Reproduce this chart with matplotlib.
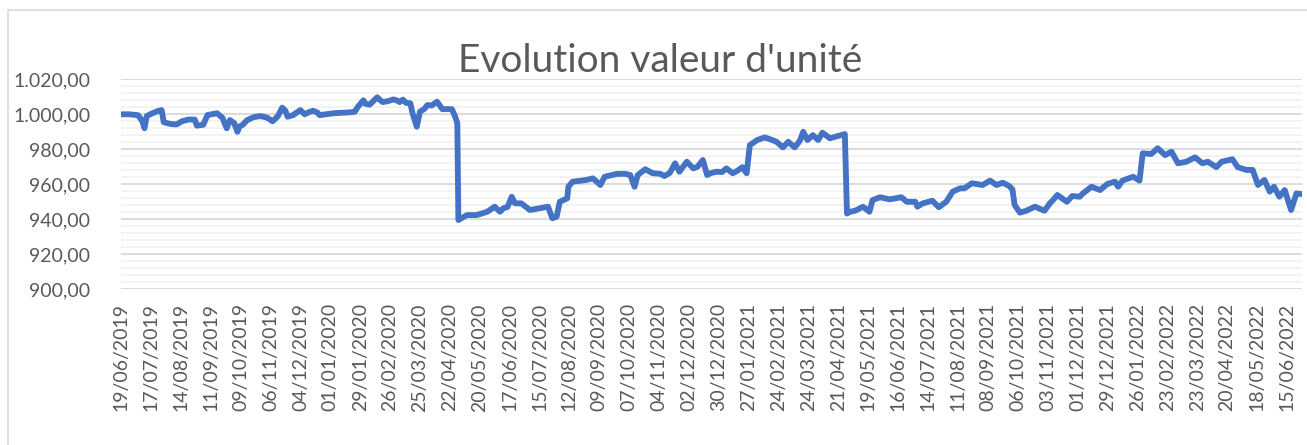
"""
Evolution valeur d'unite - line chart in Excel style
"""

# Imports
import matplotlib
matplotlib.use("Agg")
import matplotlib.pyplot as plt
import matplotlib.ticker as ticker
from matplotlib.patches import Rectangle
import pandas as pd

# Define constants
START_DATE = "2019-06-19"
TITLE = "Evolution valeur d'unité"
LINE_COLOR = "#4472C4"
TEXT_COLOR = "#595959"

# Days since START_DATE
day_offsets = [
    0, 8, 16, 20, 22, 24, 29, 35, 38, 40, 46, 52, 57, 63, 69, 71, 77, 81, 85, 90,
    95, 99, 102, 106, 109, 111, 114, 118, 124, 130, 134, 137, 142, 147, 151, 154,
    156, 161, 168, 172, 177, 180, 184, 186, 192, 199, 205, 214, 219, 222, 227,
    229, 233, 237, 240, 243, 245, 250, 255, 258, 261, 264, 267, 271, 273, 277,
    280, 284, 287, 291, 296, 301, 305, 310, 313, 315,
    316, 324, 333, 343, 350, 355, 358, 362, 366, 369, 375, 383, 392, 400, 404,
    408, 411, 418, 419, 423, 430, 436, 442, 449, 453, 464, 472, 477, 481, 484,
    491, 498, 505, 509, 514, 519, 523, 530, 536, 540, 545, 549, 553, 558, 563,
    567, 573, 578, 582, 586, 589, 596, 603, 609, 614, 620, 625, 631, 636, 639,
    643, 648, 653, 657, 664, 671, 678,
    680, 683, 688, 695, 701, 704, 711, 720, 731, 736, 744, 746, 751, 760, 766,
    773, 779, 786, 790, 797, 807, 814, 820, 826, 832, 835, 837, 842, 848, 856,
    865, 870, 873, 877, 886, 891, 898, 901, 909, 917, 924, 931, 934, 938, 948,
    954, 957, 965, 971, 978, 984, 990, 998, 1006, 1013, 1018, 1026, 1031, 1041,
    1046, 1054, 1060, 1065, 1071, 1076, 1080, 1085, 1090, 1096, 1101, 1106,
]

unit_values = [
    1000.0, 1000.0, 999.5, 996.0, 992.0, 999.0, 1000.5, 1002.0, 1002.4, 995.5,
    994.5, 994.2, 996.0, 997.0, 997.0, 993.5, 994.0, 999.6, 1000.0, 1000.6,
    998.0, 992.0, 996.7, 995.0, 990.0, 993.0, 994.0, 996.6, 998.3, 999.0,
    998.5, 998.0, 996.0, 999.0, 1003.8, 1002.0, 998.6, 999.5, 1002.4, 1000.0,
    1001.5, 1002.0, 1001.0, 999.5, 1000.0, 1000.6, 1000.8, 1001.1, 1001.5,
    1004.4, 1008.0, 1006.0, 1005.5, 1008.0, 1009.7, 1008.0, 1007.0, 1007.5,
    1008.5, 1008.0, 1007.0, 1008.4, 1006.5, 1006.3, 1000.7, 992.9, 1001.5,
    1003.0, 1005.3, 1005.0, 1007.2, 1002.9, 1003.0, 1002.9, 998.6, 995.0,
    939.6, 942.4, 942.4, 944.3, 947.2, 944.3, 946.3, 947.0, 952.9, 949.1,
    949.1, 945.3, 946.3, 947.2, 940.6, 941.5, 950.0, 952.0, 958.6, 961.5,
    962.0, 962.5, 963.4, 959.6, 964.3, 965.9, 966.0, 965.3, 958.6, 965.3,
    968.6, 966.3, 966.0, 964.7, 966.5, 972.0, 967.2, 972.9, 969.1, 970.0,
    973.9, 965.3, 966.5, 967.2, 967.0, 969.1, 966.3, 968.0, 969.8, 966.3,
    982.4, 985.3, 986.8, 985.5, 984.3, 981.1, 984.3, 981.1, 985.0, 990.0,
    985.3, 988.1, 985.3, 989.5, 986.3, 987.5, 988.7,
    943.3, 944.3, 945.0, 947.2, 944.3, 951.0, 952.6, 951.4, 952.6, 950.0,
    950.0, 947.2, 949.1, 950.6, 946.9, 950.0, 955.8, 957.7, 957.7, 960.6,
    959.6, 962.1, 959.6, 960.9, 959.0, 957.0, 948.2, 943.8, 944.9, 947.2,
    944.9, 949.1, 951.0, 953.9, 950.0, 953.3, 952.9, 954.8, 958.6, 956.7,
    960.2, 961.5, 958.6, 962.1, 964.3, 962.1, 977.7, 977.3, 980.6, 976.7,
    978.6, 972.0, 972.9, 975.4, 972.0, 972.9, 969.8, 972.9, 974.3, 969.8,
    968.2, 968.2, 959.6, 962.5, 955.8, 958.6, 952.9, 956.7, 945.3, 954.8,
    954.4,
]

# Axis settings
y_min, y_max = 900, 1020
y_major = 20
y_minor = 4
x_tick_step = 28

# Build dates
start = pd.Timestamp(START_DATE)
dates = [start + pd.Timedelta(days=d) for d in day_offsets]
tick_dates = pd.date_range(start, dates[-1], freq=f"{x_tick_step}D")
tick_labels = [d.strftime("%d/%m/%Y") for d in tick_dates]

plt.rcParams["font.family"] = ["Lato", "DejaVu Sans"]

# Prepare graph
fig = plt.figure(figsize=(13.07, 4.45), dpi=100)
ax = fig.add_axes([0.0926, 0.3499, 0.9034, 0.4719])

# Chart border (left and top visible)
fig.patches.append(Rectangle((8 / 1307, -0.1), 1.2, (435 / 445) + 0.1,
                             transform=fig.transFigure, fill=False,
                             edgecolor="#D9D9D9", linewidth=1.2))

ax.plot(dates, unit_values, color=LINE_COLOR, linewidth=4.2,
        solid_joinstyle="round", solid_capstyle="round", zorder=3)

# Axes limits and ticks
ax.set_xlim(dates[0], dates[-1])
ax.set_ylim(y_min, y_max)
ax.yaxis.set_major_locator(ticker.MultipleLocator(y_major))
ax.yaxis.set_minor_locator(ticker.MultipleLocator(y_minor))
ax.yaxis.set_major_formatter(ticker.FuncFormatter(
    lambda v, p: f"{v:,.2f}".replace(",", " ").replace(".", ",").replace(" ", ".")))
ax.set_xticks(tick_dates)
ax.set_xticklabels(tick_labels, rotation=90)

ax.tick_params(axis="both", which="both", length=0, colors=TEXT_COLOR,
               labelsize=14)
ax.tick_params(axis="y", pad=22)
ax.tick_params(axis="x", pad=10)

# Gridlines
ax.grid(axis="y", which="major", color="#D9D9D9", linewidth=1.3, zorder=1)
ax.grid(axis="y", which="minor", color="#F2F2F2", linewidth=1.3, zorder=0)
ax.grid(axis="x", visible=False)
for spine in ax.spines.values():
    spine.set_visible(False)

# Title
fig.text(0.505, 0.862, TITLE, ha="center", va="center", fontsize=28,
         color=TEXT_COLOR, fontweight="normal")

fig.savefig("out.png", dpi=100)
